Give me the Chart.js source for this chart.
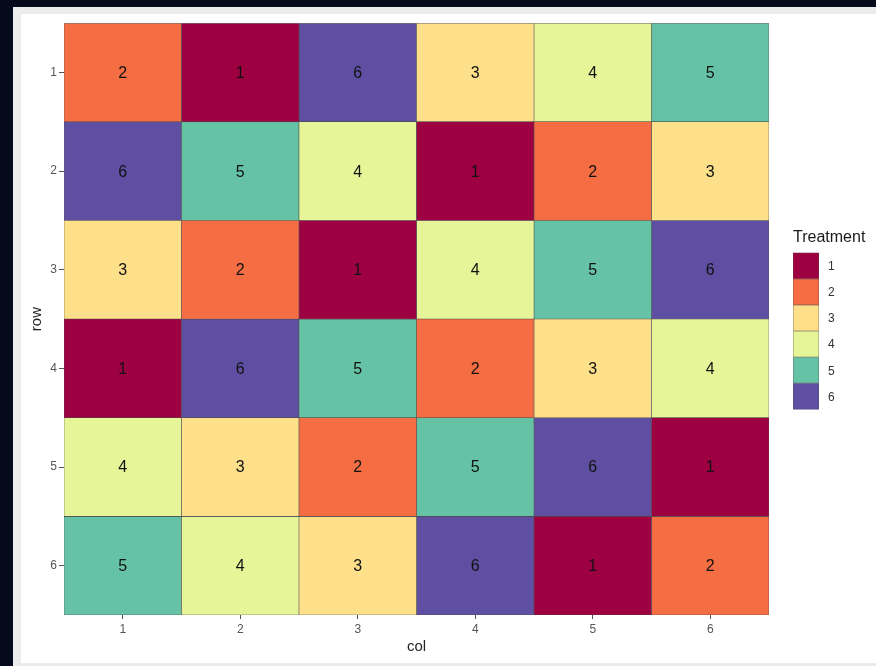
<!DOCTYPE html>
<html>
<head>
<meta charset="utf-8">
<script src="https://cdn.jsdelivr.net/npm/chart.js@4.4.1/dist/chart.umd.min.js"></script>
<style>
  html, body { margin: 0; padding: 0; background: #040a1c; width: 876px; height: 666px; overflow: hidden; }
  #frame { position: absolute; left: 13px; top: 7px; width: 863px; height: 659px; background: #ebebeb; }
  #plot { position: absolute; left: 21px; top: 14px; background: #ffffff; }
</style>
</head>
<body>
<div id="frame"></div>
<canvas id="plot" width="855" height="649"></canvas>
<script>
// Latin square layout: treatment in each (row, col) cell
const colLabels = ['1', '2', '3', '4', '5', '6'];
const rowLabels = [1, 2, 3, 4, 5, 6];
const row1 = [2, 1, 6, 3, 4, 5];
const row2 = [6, 5, 4, 1, 2, 3];
const row3 = [3, 2, 1, 4, 5, 6];
const row4 = [1, 6, 5, 2, 3, 4];
const row5 = [4, 3, 2, 5, 6, 1];
const row6 = [5, 4, 3, 6, 1, 2];
const grid = [row1, row2, row3, row4, row5, row6];

const treatments = [1, 2, 3, 4, 5, 6];
const treatmentColors = ['#9e0142', '#f46d43', '#fee08b', '#e6f598', '#66c2a5', '#5e4fa2'];

const tileBorder = '#4d4d4d';

// one dataset per treatment, a floating bar spanning its row in every column
const datasets = treatments.map((t, ti) => ({
    label: String(t),
    data: colLabels.map((c, ci) => {
        const r = rowLabels[grid.findIndex(row => row[ci] === t)];
        return [r - 0.5, r + 0.5];
    }),
    backgroundColor: treatmentColors[ti],
    borderColor: tileBorder,
    borderWidth: 0.6,
    borderSkipped: false,
    barPercentage: 1,
    categoryPercentage: 1,
    grouped: false
}));

const cellText = {
    id: 'cellText',
    afterDatasetsDraw(chart) {
        const ctx = chart.ctx;
        ctx.save();
        ctx.font = '16px "Liberation Sans", Arial, sans-serif';
        ctx.fillStyle = '#111111';
        ctx.textAlign = 'center';
        ctx.textBaseline = 'middle';
        chart.data.datasets.forEach((ds, i) => {
            chart.getDatasetMeta(i).data.forEach(el => {
                ctx.fillText(ds.label, el.x, (el.y + el.base) / 2 + 1);
            });
        });
        ctx.restore();
    }
};

const treatmentLegend = {
    id: 'treatmentLegend',
    afterDraw(chart) {
        const ctx = chart.ctx;
        const area = chart.chartArea;
        const keyW = 26, keyH = 26.1;
        const x = area.right + 24;
        const total = 22 + keyH * treatments.length;
        const top = (area.top + area.bottom) / 2 - total / 2 + 1;
        ctx.save();
        ctx.font = '16px "Liberation Sans", Arial, sans-serif';
        ctx.fillStyle = '#1a1a1a';
        ctx.textAlign = 'left';
        ctx.textBaseline = 'alphabetic';
        ctx.fillText('Treatment', x, top + 11);
        const keyTop = top + 22;
        treatments.forEach((t, i) => {
            const y = keyTop + i * keyH;
            ctx.fillStyle = treatmentColors[i];
            ctx.fillRect(x, y, keyW, keyH);
            ctx.strokeStyle = 'rgba(77,77,77,0.5)';
            ctx.lineWidth = 0.6;
            ctx.strokeRect(x + 0.3, y + 0.3, keyW - 0.6, keyH - 0.6);
            ctx.fillStyle = '#333333';
            ctx.font = '12px "Liberation Sans", Arial, sans-serif';
            ctx.textBaseline = 'middle';
            ctx.fillText(String(t), x + keyW + 9, y + keyH / 2 + 1);
        });
        ctx.restore();
    }
};

new Chart(document.getElementById('plot'), {
    type: 'bar',
    data: { labels: colLabels, datasets: datasets },
    options: {
        responsive: false,
        animation: false,
        layout: { padding: { top: 9, right: 107, left: 0, bottom: 0 } },
        plugins: {
            legend: { display: false },
            tooltip: { enabled: false }
        },
        scales: {
            x: {
                type: 'category',
                offset: true,
                grid: { display: true, drawOnChartArea: false, offset: false, tickLength: 4, color: '#555555' },
                border: { display: false },
                ticks: { color: '#555555', padding: 3, font: { family: '"Liberation Sans", Arial, sans-serif', size: 12 } },
                title: {
                    display: true, text: 'col', color: '#222222',
                    font: { family: '"Liberation Sans", Arial, sans-serif', size: 15 },
                    padding: { top: 4, bottom: 7 }
                },
                afterFit(scale) { scale.height = 48; }
            },
            y: {
                type: 'linear',
                reverse: true,
                min: 0.5,
                max: 6.5,
                afterBuildTicks(scale) { scale.ticks = rowLabels.map(v => ({ value: v })); },
                grid: { display: true, drawOnChartArea: false, tickLength: 5, color: '#555555' },
                border: { display: false },
                ticks: { color: '#555555', padding: 2, font: { family: '"Liberation Sans", Arial, sans-serif', size: 12 } },
                title: {
                    display: true, text: 'row', color: '#222222',
                    font: { family: '"Liberation Sans", Arial, sans-serif', size: 15 },
                    padding: { top: 7, bottom: 4 }
                },
                afterFit(scale) { scale.width = 43; }
            }
        }
    },
    plugins: [cellText, treatmentLegend]
});
</script>
</body>
</html>
